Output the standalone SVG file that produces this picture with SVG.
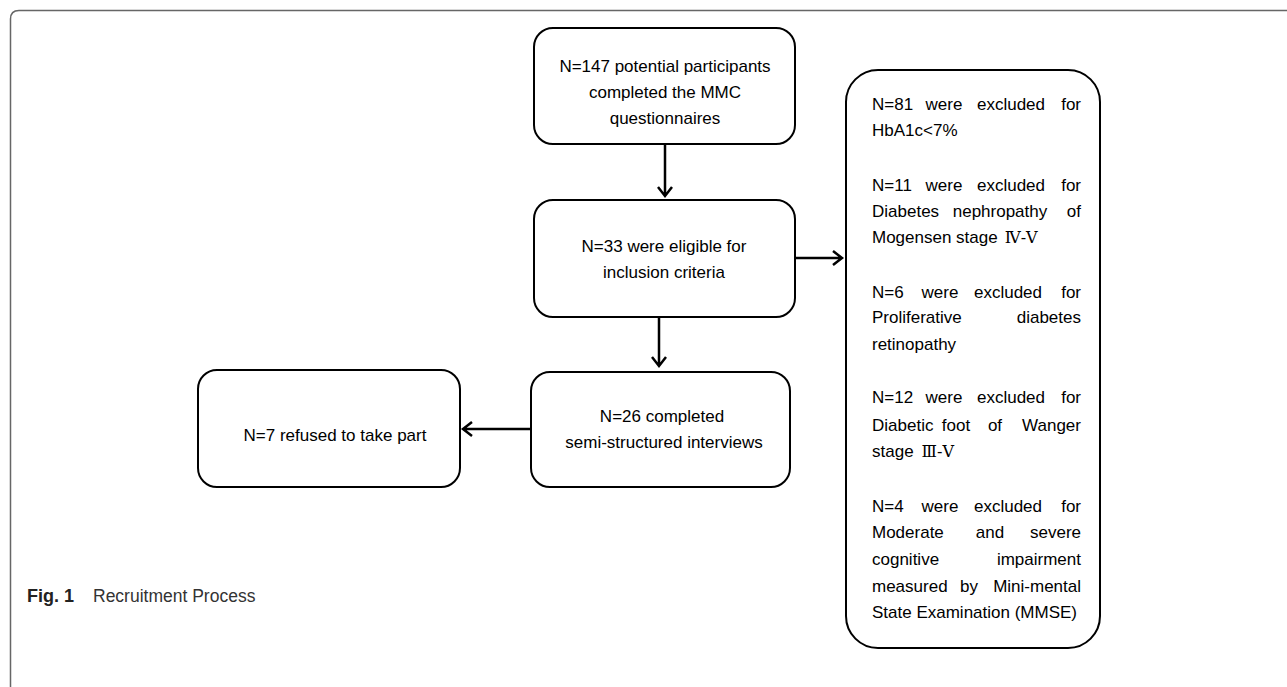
<svg xmlns="http://www.w3.org/2000/svg" width="1287" height="687" viewBox="0 0 1287 687">
<style>
.box{fill:#fff;stroke:#000;stroke-width:2}
.t{font-family:"Liberation Sans",Arial,sans-serif;font-size:17px;fill:#000}
.c{text-anchor:middle}
.e{text-anchor:end}
.rn{font-family:"DejaVu Serif","Liberation Serif","Noto Sans CJK SC",serif;font-size:16px}
.conn{fill:none;stroke:#000;stroke-width:2.5}
</style>
<rect width="1287" height="687" fill="#fff"/>
<path d="M10.5,687 V19 Q10.5,10.5 19,10.5 H1287" fill="none" stroke="#666" stroke-width="1.5"/>
<g id="n1">
<rect class="box" x="534" y="28" width="261" height="116" rx="19"/>
<text class="t c" x="665" y="72">N=147 potential participants</text>
<text class="t c" x="665" y="98">completed the MMC</text>
<text class="t c" x="665" y="124">questionnaires</text>
</g>
<g id="n2">
<rect class="box" x="534" y="200" width="261" height="117" rx="19"/>
<text class="t c" x="664" y="252">N=33 were eligible for</text>
<text class="t c" x="664" y="278">inclusion criteria</text>
</g>
<g id="n3">
<rect class="box" x="531" y="372" width="259" height="115" rx="19"/>
<text class="t c" x="662" y="422">N=26 completed</text>
<text class="t c" x="664" y="448">semi-structured interviews</text>
</g>
<g id="n4">
<rect class="box" x="198" y="370" width="262" height="117" rx="19"/>
<text class="t c" x="335" y="441">N=7 refused to take part</text>
</g>
<g id="n5">
<rect class="box" x="846" y="70" width="254" height="578" rx="32"/>
<text class="t"><tspan x="872" y="110">N=81</tspan><tspan class="c" x="944" y="110">were</tspan><tspan class="c" x="1011" y="110">excluded</tspan><tspan class="e" x="1081" y="110">for</tspan></text>
<text class="t" x="872" y="136">HbA1c&lt;7%</text>
<text class="t"><tspan x="872" y="191">N=11</tspan><tspan class="c" x="944" y="191">were</tspan><tspan class="c" x="1011" y="191">excluded</tspan><tspan class="e" x="1081" y="191">for</tspan></text>
<text class="t"><tspan x="872" y="217">Diabetes</tspan><tspan class="c" x="1000" y="217">nephropathy</tspan><tspan class="e" x="1081" y="217">of</tspan></text>
<text class="t" x="872" y="243">Mogensen stage<tspan class="rn" dx="7">Ⅳ-Ⅴ</tspan></text>
<text class="t"><tspan x="872" y="298">N=6</tspan><tspan class="c" x="940" y="298">were</tspan><tspan class="c" x="1008" y="298">excluded</tspan><tspan class="e" x="1081" y="298">for</tspan></text>
<text class="t"><tspan x="872" y="323">Proliferative</tspan><tspan class="e" x="1081" y="323">diabetes</tspan></text>
<text class="t" x="872" y="350">retinopathy</text>
<text class="t"><tspan x="872" y="403">N=12</tspan><tspan class="c" x="944" y="403">were</tspan><tspan class="c" x="1011" y="403">excluded</tspan><tspan class="e" x="1081" y="403">for</tspan></text>
<text class="t"><tspan x="872" y="431">Diabetic</tspan><tspan class="c" x="956" y="431">foot</tspan><tspan class="c" x="995" y="431">of</tspan><tspan class="e" x="1081" y="431">Wanger</tspan></text>
<text class="t" x="872" y="457">stage<tspan class="rn" dx="8">Ⅲ-Ⅴ</tspan></text>
<text class="t"><tspan x="872" y="512">N=4</tspan><tspan class="c" x="940" y="512">were</tspan><tspan class="c" x="1008" y="512">excluded</tspan><tspan class="e" x="1081" y="512">for</tspan></text>
<text class="t"><tspan x="872" y="538">Moderate</tspan><tspan class="c" x="990" y="538">and</tspan><tspan class="e" x="1081" y="538">severe</tspan></text>
<text class="t"><tspan x="872" y="565">cognitive</tspan><tspan class="e" x="1081" y="565">impairment</tspan></text>
<text class="t"><tspan x="872" y="592">measured</tspan><tspan class="c" x="969" y="592">by</tspan><tspan class="e" x="1081" y="592">Mini-mental</tspan></text>
<text class="t" x="872" y="618">State Examination (MMSE)</text>
</g>
<g id="connectors">
<path class="conn" d="M665,144 V196 M658,187 L665,196 L672,187"/>
<path class="conn" d="M795,258 H842 M833,251 L842,258 L833,265"/>
<path class="conn" d="M659,317 V366 M652,357 L659,366 L666,357"/>
<path class="conn" d="M531,429 H463 M472,422 L463,429 L472,436"/>
</g>
<g id="caption">
<text x="27" y="602" font-family="Liberation Sans,Arial,sans-serif" font-size="18" font-weight="bold" fill="#222">Fig. 1</text>
<text x="93" y="602" font-family="Liberation Sans,Arial,sans-serif" font-size="17.5" fill="#333">Recruitment Process</text>
</g>
</svg>
